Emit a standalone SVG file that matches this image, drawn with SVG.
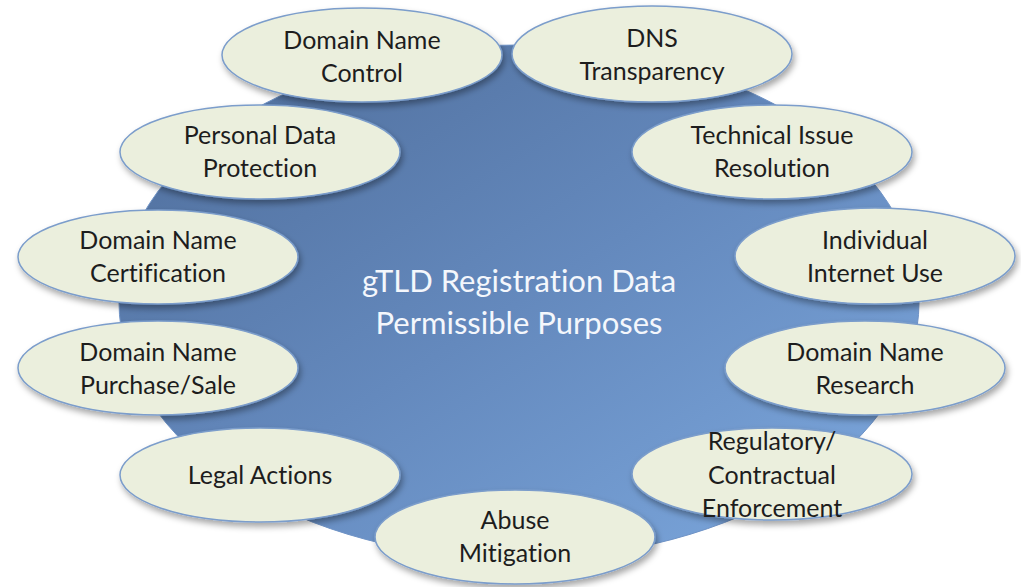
<svg xmlns="http://www.w3.org/2000/svg" width="1021" height="587" viewBox="0 0 1021 587">
  <defs>
    <linearGradient id="hubFill" x1="0" y1="0" x2="1" y2="1">
      <stop offset="0" stop-color="#4d6b98"/>
      <stop offset="0.5" stop-color="#6489bd"/>
      <stop offset="1" stop-color="#7eaae0"/>
    </linearGradient>
    <filter id="shadow" x="-10%" y="-10%" width="125%" height="130%">
      <feDropShadow dx="2" dy="4" stdDeviation="3" flood-color="#000" flood-opacity="0.35"/>
    </filter>
    <style>
      text { font-variant-ligatures: none; }
      .purpose ellipse { fill: #ebefdd; stroke: #7b9dcb; stroke-width: 1.5; filter: url(#shadow); }
      .purpose text { font-family: Lato, "Open Sans", "Liberation Sans", sans-serif; font-size: 25px; fill: #1d1d1d; text-anchor: middle; }
      .hub-label { font-family: Lato, "Open Sans", "Liberation Sans", sans-serif; font-size: 31px; fill: #f4f7fc; text-anchor: middle; }
    </style>
  </defs>

  <rect width="1021" height="587" fill="#ffffff"/>

  <!-- central hub -->
  <g id="hub">
    <ellipse cx="519" cy="302" rx="400" ry="257" fill="url(#hubFill)" stroke="#6f93c6" stroke-width="1"/>
    <text class="hub-label" x="519" y="292">gTLD Registration Data</text>
    <text class="hub-label" x="519" y="334">Permissible Purposes</text>
  </g>

  <!-- surrounding purposes -->
  <g id="domain-name-control" class="purpose">
    <ellipse cx="362" cy="55" rx="140" ry="47"/>
    <text x="362" y="49">Domain Name</text>
    <text x="362" y="82">Control</text>
  </g>
  <g id="dns-transparency" class="purpose">
    <ellipse cx="652" cy="54" rx="140" ry="48"/>
    <text x="652" y="47">DNS</text>
    <text x="652" y="80">Transparency</text>
  </g>
  <g id="personal-data-protection" class="purpose">
    <ellipse cx="260" cy="152" rx="140" ry="47"/>
    <text x="260" y="144">Personal Data</text>
    <text x="260" y="177">Protection</text>
  </g>
  <g id="technical-issue-resolution" class="purpose">
    <ellipse cx="772" cy="152" rx="140" ry="47"/>
    <text x="772" y="144">Technical Issue</text>
    <text x="772" y="177">Resolution</text>
  </g>
  <g id="domain-name-certification" class="purpose">
    <ellipse cx="158" cy="257" rx="140" ry="47"/>
    <text x="158" y="249">Domain Name</text>
    <text x="158" y="282">Certification</text>
  </g>
  <g id="individual-internet-use" class="purpose">
    <ellipse cx="875" cy="256" rx="140" ry="48"/>
    <text x="875" y="249">Individual</text>
    <text x="875" y="282">Internet Use</text>
  </g>
  <g id="domain-name-purchase-sale" class="purpose">
    <ellipse cx="158" cy="368" rx="140" ry="47"/>
    <text x="158" y="361">Domain Name</text>
    <text x="158" y="394">Purchase/Sale</text>
  </g>
  <g id="domain-name-research" class="purpose">
    <ellipse cx="865" cy="368" rx="140" ry="47"/>
    <text x="865" y="361">Domain Name</text>
    <text x="865" y="394">Research</text>
  </g>
  <g id="legal-actions" class="purpose">
    <ellipse cx="260" cy="475" rx="140" ry="47"/>
    <text x="260" y="484">Legal Actions</text>
  </g>
  <g id="regulatory-contractual-enforcement" class="purpose">
    <ellipse cx="772" cy="474" rx="140" ry="46"/>
    <text x="772" y="450">Regulatory/</text>
    <text x="772" y="484">Contractual</text>
    <text x="772" y="517">Enforcement</text>
  </g>
  <g id="abuse-mitigation" class="purpose">
    <ellipse cx="515" cy="537" rx="140" ry="47"/>
    <text x="515" y="529">Abuse</text>
    <text x="515" y="562">Mitigation</text>
  </g>

  <!-- no connectors: purposes sit directly on the hub -->
  <g id="connectors"/>
</svg>
